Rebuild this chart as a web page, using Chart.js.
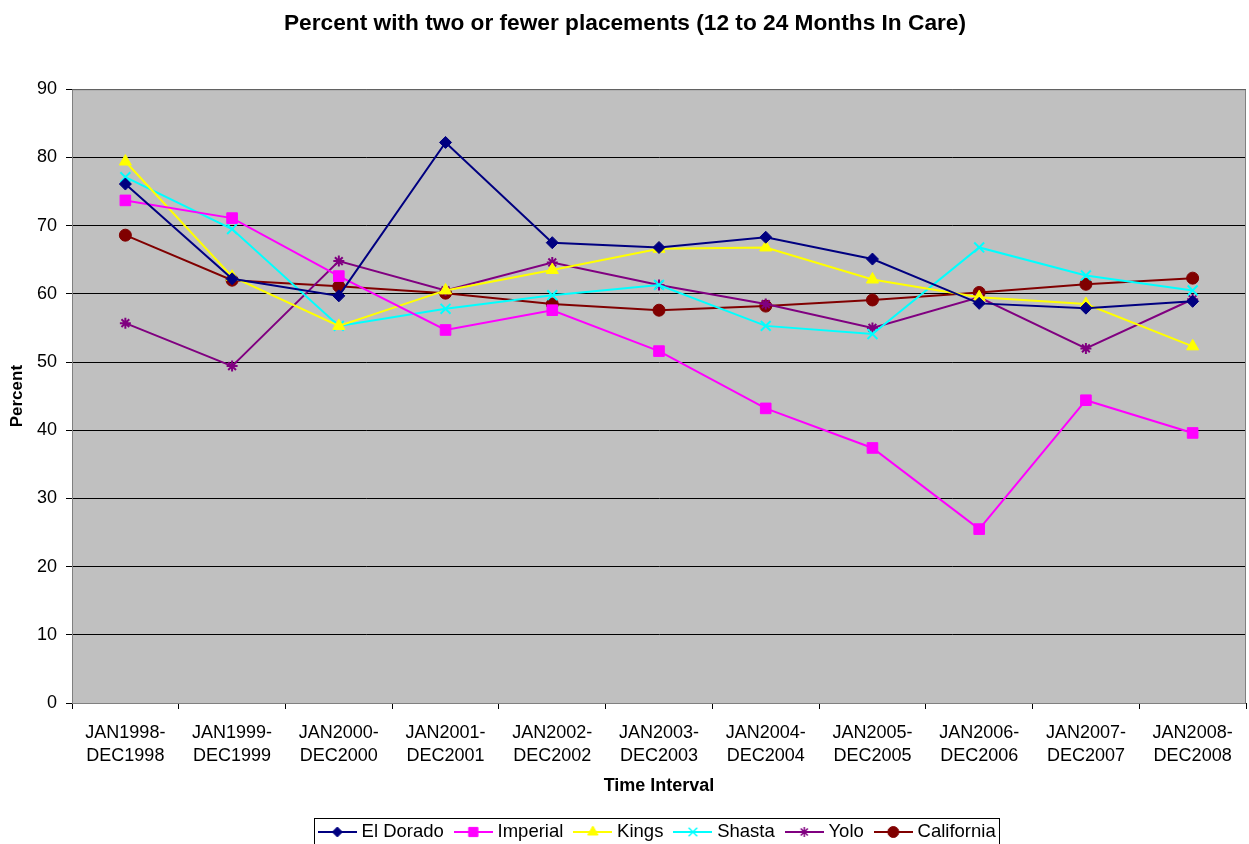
<!DOCTYPE html>
<html>
<head>
<meta charset="utf-8">
<script src="https://cdn.jsdelivr.net/npm/chart.js@4.4.0/dist/chart.umd.min.js"></script>
<style>
  html, body { margin: 0; padding: 0; background: #fff; }
  #wrap { width: 1249px; height: 844px; }
</style>
</head>
<body>
<div id="wrap"><canvas id="chart" width="1249" height="844"></canvas></div>
<script>
// --------------------------------
// Percent with two or fewer placements
// --------------------------------
const intervals = [
  ["JAN1998-", "DEC1998"], ["JAN1999-", "DEC1999"], ["JAN2000-", "DEC2000"],
  ["JAN2001-", "DEC2001"], ["JAN2002-", "DEC2002"], ["JAN2003-", "DEC2003"],
  ["JAN2004-", "DEC2004"], ["JAN2005-", "DEC2005"], ["JAN2006-", "DEC2006"],
  ["JAN2007-", "DEC2007"], ["JAN2008-", "DEC2008"]
];

const elDorado   = [76.1, 62.2, 59.7, 82.2, 67.5, 66.8, 68.3, 65.1, 58.6, 57.9, 58.9];
const imperial   = [73.7, 71.1, 62.6, 54.7, 57.6, 51.6, 43.2, 37.4, 25.5, 44.4, 39.6];
const kings      = [79.4, 62.5, 55.3, 60.5, 63.5, 66.6, 66.8, 62.1, 59.5, 58.5, 52.3];
const shasta     = [77.1, 69.5, 55.3, 57.8, 59.8, 61.3, 55.3, 54.1, 66.8, 62.7, 60.5];
const yolo       = [55.7, 49.4, 64.8, 60.5, 64.6, 61.3, 58.5, 55.0, 59.5, 52.0, 59.2];
const california = [68.6, 62.0, 61.1, 60.1, 58.5, 57.6, 58.2, 59.1, 60.2, 61.4, 62.3];

const yTicks = [0, 10, 20, 30, 40, 50, 60, 70, 80, 90];

const FONT = "'Liberation Sans', Arial, sans-serif";

const seriesDefs = [
  { label: "El Dorado",  data: elDorado,   color: "#000080", style: "rectRot",  radius: 6,   legendRadius: 5 },
  { label: "Imperial",   data: imperial,   color: "#FF00FF", style: "rect",     radius: 7.5, legendRadius: 6.5 },
  { label: "Kings",      data: kings,      color: "#FFFF00", style: "triangle", radius: 7,   legendRadius: 6 },
  { label: "Shasta",     data: shasta,     color: "#00FFFF", style: "crossRot", radius: 7,   legendRadius: 6 },
  { label: "Yolo",       data: yolo,       color: "#800080", style: "star",     radius: 5.5, legendRadius: 5 },
  { label: "California", data: california, color: "#800000", style: "circle",   radius: 6,   legendRadius: 5.5 }
];

// small canvas with a line through the marker, for the legend
function legendSymbol(def) {
  const c = document.createElement("canvas");
  c.width = 39; c.height = 16;
  const ctx = c.getContext("2d");
  ctx.strokeStyle = def.color;
  ctx.fillStyle = def.color;
  ctx.lineWidth = 2;
  ctx.beginPath();
  ctx.moveTo(0, 8); ctx.lineTo(39, 8);
  ctx.stroke();
  const lw = def.style === "crossRot" || def.style === "star" ? 1.5 : 1;
  ctx.lineWidth = lw;
  Chart.helpers.drawPoint(ctx, { pointStyle: def.style, radius: def.legendRadius, borderWidth: lw, rotation: 0 }, 19.5, 8);
  return c;
}

const plotBackground = {
  id: "plotBackground",
  beforeDraw(chart) {
    const { ctx, chartArea: a } = chart;
    ctx.save();
    ctx.fillStyle = "#C0C0C0";
    ctx.fillRect(a.left, a.top, a.right - a.left, a.bottom - a.top);
    ctx.restore();
  },
  afterDraw(chart) {
    const { ctx, chartArea: a } = chart;
    ctx.save();
    ctx.strokeStyle = "#808080";
    ctx.lineWidth = 1;
    ctx.strokeRect(a.left + 0.5, a.top + 0.5, a.right - a.left - 1, a.bottom - a.top);
    // legend frame
    const boxes = chart.legend.legendHitBoxes;
    if (boxes && boxes.length) {
      const left = Math.min(...boxes.map(b => b.left)) - 8.5;
      const right = Math.max(...boxes.map(b => b.left + b.width)) + 3.5;
      ctx.strokeStyle = "#000";
      ctx.strokeRect(Math.round(left) + 0.5, 818.5, Math.round(right - left), 40);
    }
    ctx.restore();
  }
};

new Chart(document.getElementById("chart"), {
  type: "line",
  data: {
    labels: intervals,
    datasets: seriesDefs.map(d => ({
      label: d.label,
      data: d.data,
      borderColor: d.color,
      backgroundColor: d.color,
      pointBorderColor: d.color,
      pointBackgroundColor: d.color,
      pointStyle: d.style,
      pointRadius: d.radius,
      pointBorderWidth: d.style === "crossRot" || d.style === "star" ? 2 : 1,
      borderWidth: 2,
      tension: 0,
      fill: false,
      legendSymbol: legendSymbol(d)
    }))
  },
  options: {
    responsive: false,
    animation: false,
    layout: { autoPadding: false, padding: { left: 4, right: 3, top: 0, bottom: -7.25 } },
    plugins: {
      title: {
        display: true,
        text: "Percent with two or fewer placements (12 to 24 Months In Care)",
        color: "#000",
        font: { family: FONT, size: 22.7, weight: "bold" },
        padding: { top: 10, bottom: 52 }
      },
      legend: {
        position: "bottom",
        fullSize: false,
        labels: {
          color: "#000",
          font: { family: FONT, size: 18.5 },
          usePointStyle: true,
          pointStyleWidth: 30,
          padding: 14.5,
          generateLabels(chart) {
            return chart.data.datasets.map((ds, i) => ({
              text: ds.label,
              pointStyle: ds.legendSymbol,
              fillStyle: ds.backgroundColor,
              strokeStyle: ds.borderColor,
              lineWidth: 0,
              hidden: false,
              datasetIndex: i
            }));
          }
        }
      },
      tooltip: { enabled: false }
    },
    scales: {
      x: {
        offset: true,
        afterFit(scale) {
          scale.paddingLeft = 0;
          scale.paddingRight = 0;
          scale.height = 105.25;
        },
        grid: { offset: true, drawOnChartArea: false, drawTicks: true, tickLength: 6, color: "#000" },
        border: { color: "#000" },
        ticks: { color: "#000", font: { family: FONT, size: 18, lineHeight: 1.25 }, maxRotation: 0, autoSkip: false, padding: 13 },
        title: { display: true, text: "Time Interval", color: "#000", font: { family: FONT, size: 18, weight: "bold" }, padding: { top: 6, bottom: 11.5 } }
      },
      y: {
        min: 0,
        max: 90,
        afterBuildTicks(scale) { scale.ticks = yTicks.map(v => ({ value: v })); },
        afterFit(scale) { scale.width = 68; },
        grid: { color: "#000", tickLength: 6 },
        border: { color: "#000" },
        ticks: { color: "#000", font: { family: FONT, size: 18 }, padding: 9 },
        title: { display: true, text: "Percent", color: "#000", font: { family: FONT, size: 17, weight: "bold" }, padding: { top: 3, bottom: 0 } }
      }
    }
  },
  plugins: [plotBackground]
});
</script>
</body>
</html>
